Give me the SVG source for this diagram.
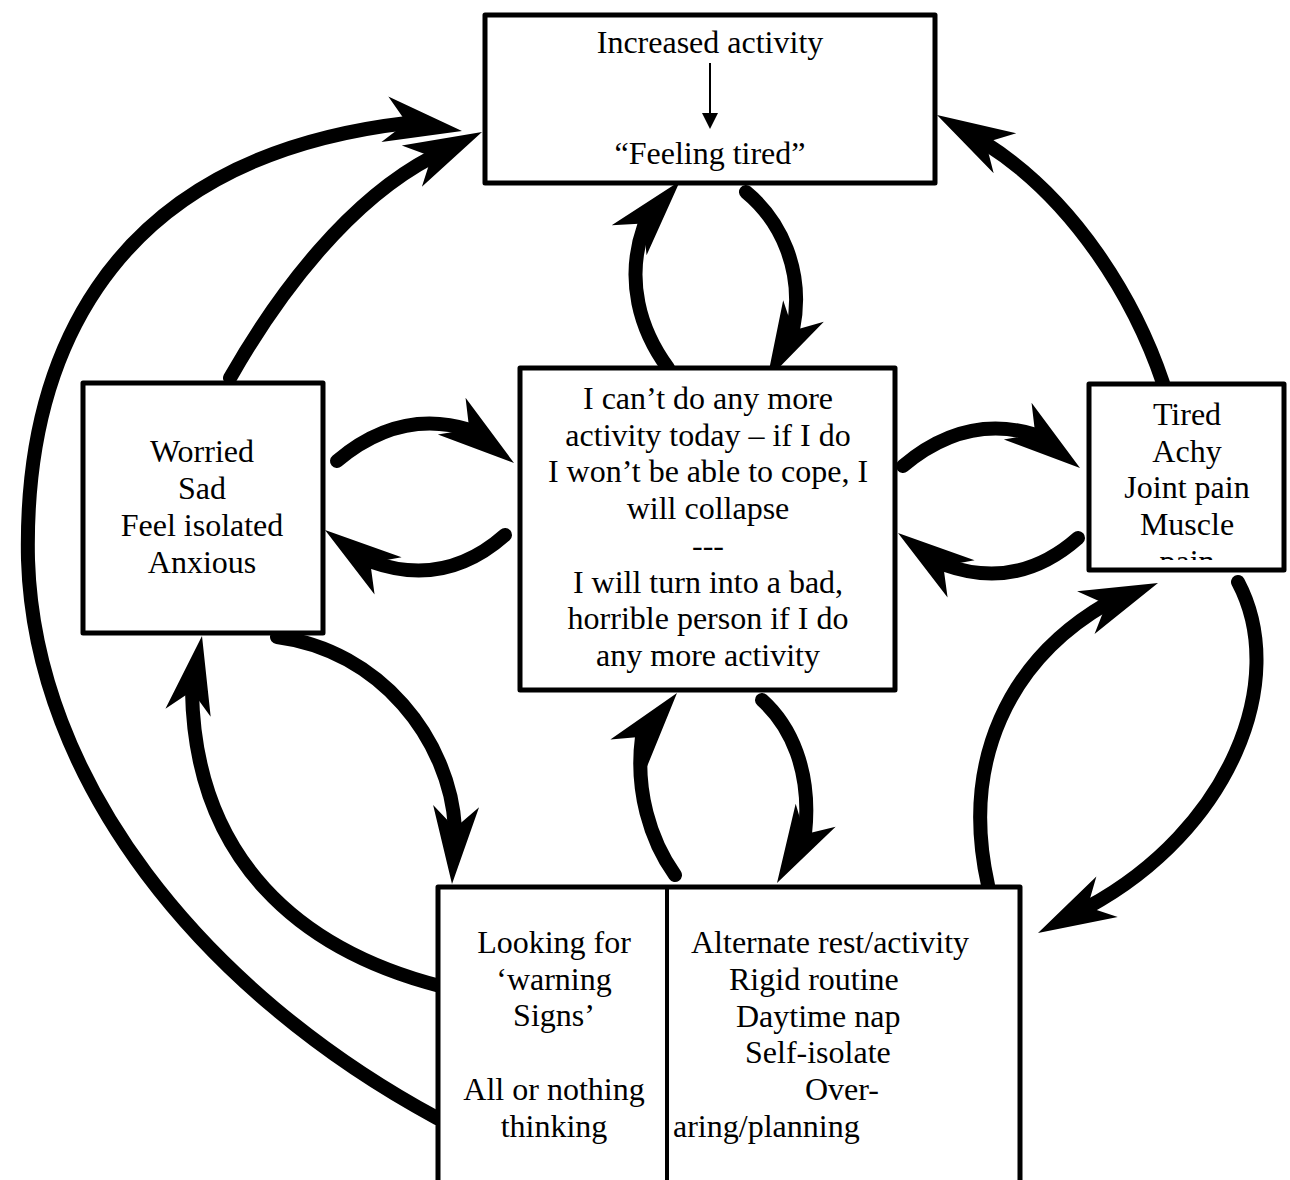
<svg xmlns="http://www.w3.org/2000/svg" xmlns:xlink="http://www.w3.org/1999/xlink" width="1290" height="1180" viewBox="0 0 1290 1180">
<style>
.box{fill:#fff;stroke:#000;stroke-width:5;stroke-linejoin:round}
.t{font-family:"Liberation Serif","Times New Roman",serif;font-size:32px;fill:#000}
.c{text-anchor:middle}
.arc{fill:none;stroke:#000;stroke-width:14;stroke-linecap:round}
</style>
<defs>
<path id="ah" d="M0,0 L-78,-23 L-56,0 L-78,23 Z" fill="#000"/>
<clipPath id="clipR"><rect x="1089" y="384" width="195" height="176"/></clipPath>
</defs>
<rect width="1290" height="1180" fill="#fff"/>

<g id="connectors">
<path class="arc" d="M437,1118 C200,990 35,780 28,560 C24,380 90,160 407,123"/>
<use xlink:href="#ah" transform="translate(462,131) rotate(8.6)"/>
<path class="arc" d="M440,986 C300,950 195,860 192,691"/>
<use xlink:href="#ah" transform="translate(202,636) rotate(-79.7)"/>
<path class="arc" d="M277,637 C380,650 450,740 455,828"/>
<use xlink:href="#ah" transform="translate(452,884) rotate(93)"/>
<path class="arc" d="M230,378 C280,290 350,200 432,157"/>
<use xlink:href="#ah" transform="translate(482,132) rotate(-25.9)"/>
<path class="arc" d="M337,461 Q400,408 470,430"/>
<use xlink:href="#ah" transform="translate(514,463) rotate(37)"/>
<path class="arc" d="M505,535 Q445,588 372,562"/>
<use xlink:href="#ah" transform="translate(325,530) rotate(-144)"/>
<path class="arc" d="M668,368 C640,330 625,280 644,226"/>
<use xlink:href="#ah" transform="translate(680,181) rotate(-49.3)"/>
<path class="arc" d="M746,192 C780,220 805,270 793,330"/>
<use xlink:href="#ah" transform="translate(767,380) rotate(117.9)"/>
<path class="arc" d="M903,466 Q966,413 1036,435"/>
<use xlink:href="#ah" transform="translate(1080,468) rotate(37)"/>
<path class="arc" d="M1078,538 Q1018,591 945,565"/>
<use xlink:href="#ah" transform="translate(898,533) rotate(-144)"/>
<path class="arc" d="M1163,383 C1135,300 1075,200 985,143"/>
<use xlink:href="#ah" transform="translate(937,115) rotate(-150.6)"/>
<path class="arc" d="M1238,582 C1290,680 1230,830 1088,907"/>
<use xlink:href="#ah" transform="translate(1038,933) rotate(152.3)"/>
<path class="arc" d="M988,885 C960,760 1010,660 1106,604"/>
<use xlink:href="#ah" transform="translate(1158,583) rotate(-22.3)"/>
<path class="arc" d="M675,875 C650,840 635,790 642,737"/>
<use xlink:href="#ah" transform="translate(677,693) rotate(-51.4)"/>
<path class="arc" d="M762,700 C790,725 812,770 805,834"/>
<use xlink:href="#ah" transform="translate(777,883) rotate(119.7)"/>
</g>

<g id="node-top">
<rect class="box" x="485" y="15" width="450" height="168"/>
<text class="t c" x="710" y="53">Increased activity</text>
<line x1="710" y1="63" x2="710" y2="115" stroke="#000" stroke-width="2"/>
<path d="M702,113 L718,113 L710,129 Z" fill="#000"/>
<text class="t c" x="710" y="164">“Feeling tired”</text>
</g>

<g id="node-left">
<rect class="box" x="83" y="383" width="240" height="250"/>
<text class="t c" x="202" y="462">Worried</text>
<text class="t c" x="202" y="499">Sad</text>
<text class="t c" x="202" y="536">Feel isolated</text>
<text class="t c" x="202" y="573">Anxious</text>
</g>

<g id="node-center">
<rect class="box" x="520" y="368" width="375" height="322"/>
<text class="t c" x="708" y="409">I can’t do any more</text>
<text class="t c" x="708" y="446">activity today – if I do</text>
<text class="t c" x="708" y="482">I won’t be able to cope, I</text>
<text class="t c" x="708" y="519">will collapse</text>
<text class="t c" x="708" y="556">---</text>
<text class="t c" x="708" y="593">I will turn into a bad,</text>
<text class="t c" x="708" y="629">horrible person if I do</text>
<text class="t c" x="708" y="666">any more activity</text>
</g>

<g id="node-right">
<rect class="box" x="1089" y="384" width="195" height="186"/>
<g clip-path="url(#clipR)">
<text class="t c" x="1187" y="425">Tired</text>
<text class="t c" x="1187" y="462">Achy</text>
<text class="t c" x="1187" y="498">Joint pain</text>
<text class="t c" x="1187" y="535">Muscle</text>
<text class="t c" x="1187" y="572">pain</text>
</g>
</g>

<g id="node-bottom">
<rect class="box" x="438" y="887" width="582" height="320"/>
<line x1="667" y1="887" x2="667" y2="1180" stroke="#000" stroke-width="4"/>
<text class="t c" x="554" y="953">Looking for</text>
<text class="t c" x="554" y="990">‘warning</text>
<text class="t c" x="554" y="1026">Signs’</text>
<text class="t c" x="554" y="1100">All or nothing</text>
<text class="t c" x="554" y="1137">thinking</text>
<text class="t" x="691" y="953">Alternate rest/activity</text>
<text class="t" x="729" y="990">Rigid routine</text>
<text class="t" x="736" y="1027">Daytime nap</text>
<text class="t" x="745" y="1063">Self-isolate</text>
<text class="t" x="805" y="1100">Over-</text>
<text class="t" x="673" y="1137">aring/planning</text>
</g>
</svg>
